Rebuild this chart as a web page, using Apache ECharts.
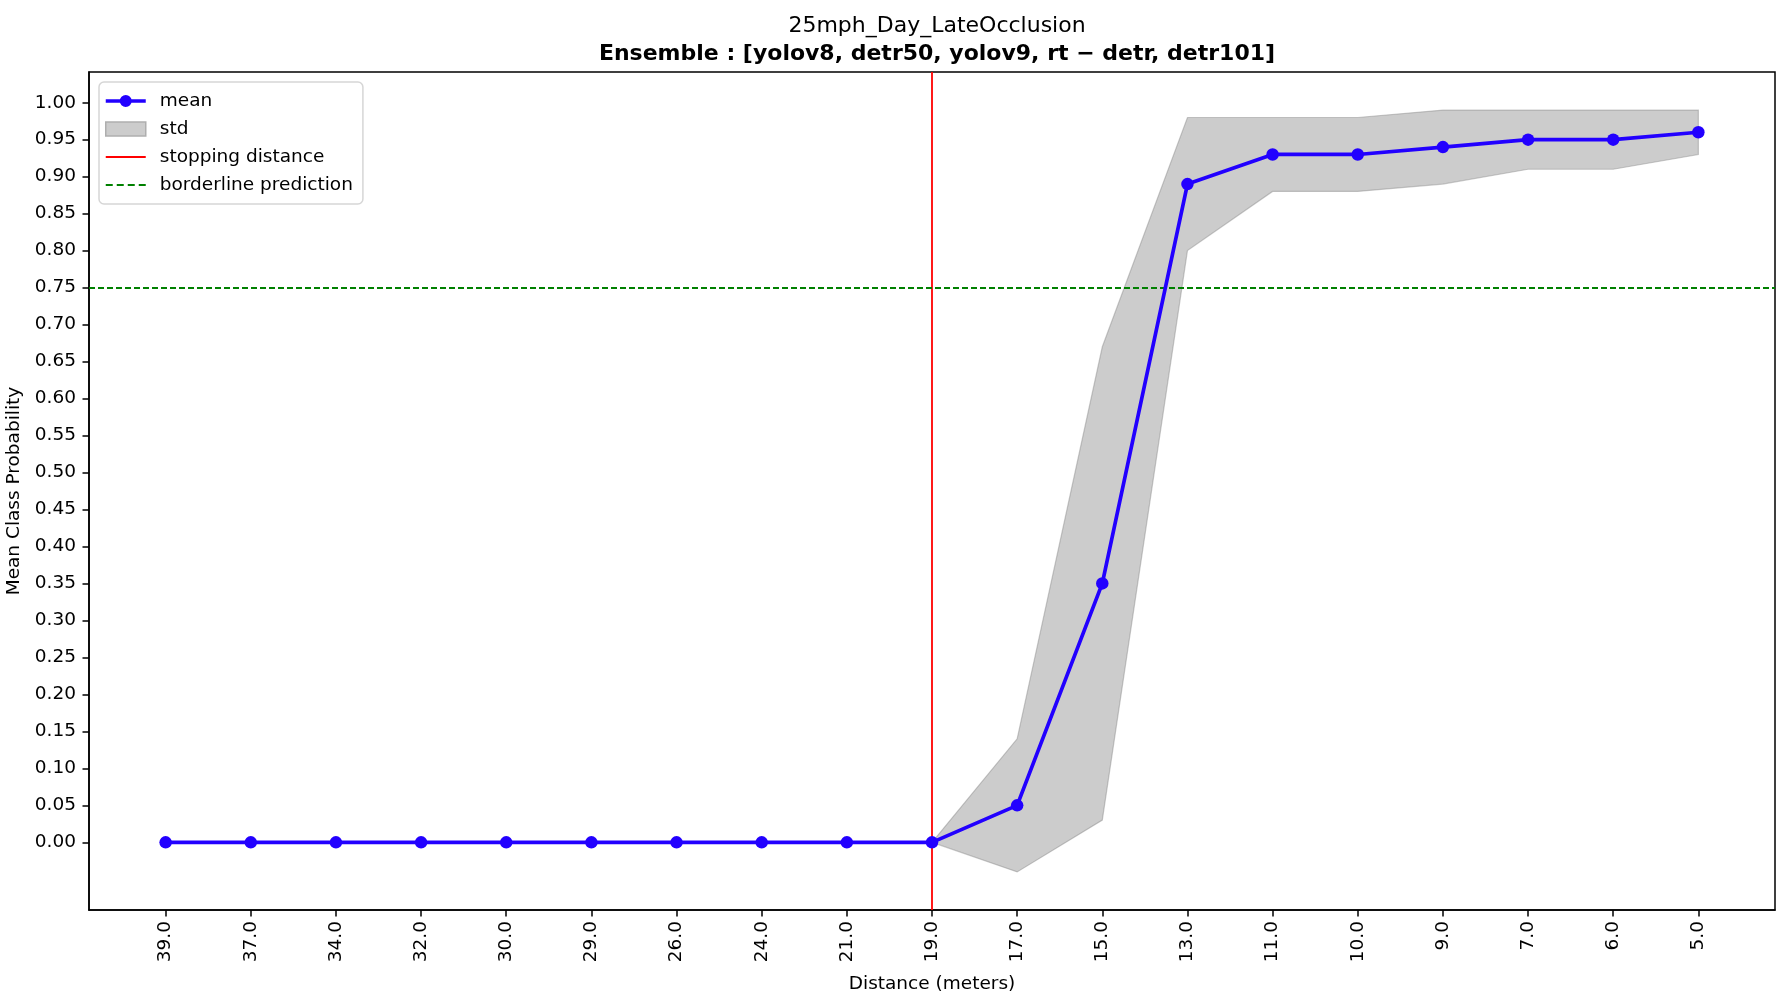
<!DOCTYPE html>
<html>
<head>
<meta charset="utf-8">
<script src="https://cdn.jsdelivr.net/npm/echarts@6/dist/echarts.min.js"></script>
<style>
  html, body { margin: 0; padding: 0; background: #fff; }
  #chart { width: 1783px; height: 994px; }
</style>
</head>
<body>
<div id="chart"></div>
<script>
// distances along the x axis (categories)
const distances = ['39.0', '37.0', '34.0', '32.0', '30.0', '29.0', '26.0', '24.0', '21.0', '19.0',
                   '17.0', '15.0', '13.0', '11.0', '10.0', '9.0', '7.0', '6.0', '5.0'];
const meanProb = [0, 0, 0, 0, 0, 0, 0, 0, 0, 0, 0.05, 0.35, 0.89, 0.93, 0.93, 0.94, 0.95, 0.95, 0.96];
const stdUpper = [0, 0, 0, 0, 0, 0, 0, 0, 0, 0, 0.14, 0.67, 0.98, 0.98, 0.98, 0.99, 0.99, 0.99, 0.99];
const stdLower = [0, 0, 0, 0, 0, 0, 0, 0, 0, 0, -0.04, 0.03, 0.80, 0.88, 0.88, 0.89, 0.91, 0.91, 0.93];
const yTicks = [0.00, 0.05, 0.10, 0.15, 0.20, 0.25, 0.30, 0.35, 0.40, 0.45, 0.50,
                0.55, 0.60, 0.65, 0.70, 0.75, 0.80, 0.85, 0.90, 0.95, 1.00];
const stoppingDistance = '19.0';
const borderline = 0.75;

const FONT = 'DejaVu Sans';
const stopIdx = distances.indexOf(stoppingDistance);
const xIdx = distances.map((d, i) => i);

// legend glyphs (40x14 box, leading moves fix the bounding box)
const ICON_MEAN = 'path://M0,0M40,14M0,5.2H40V8.8H0Z M26,7a6,6 0 1,1 -12,0a6,6 0 1,1 12,0Z';
const ICON_SOLID = 'path://M0,0M40,14M0,6H40V8H0Z';
const ICON_DASH = 'path://M0,0M40,14M0,6H7V8H0Z M11,6H18V8H11Z M22,6H29V8H22Z M33,6H40V8H33Z';

const chart = echarts.init(document.getElementById('chart'));

chart.setOption({
  animation: false,
  backgroundColor: '#fff',
  title: [
    {
      text: '25mph_Day_LateOcclusion',
      left: 932, top: 10, textAlign: 'center',
      textStyle: { fontFamily: FONT, fontSize: 22, fontWeight: 'normal', color: '#000' },
    },
    {
      text: 'Ensemble : [yolov8, detr50, yolov9, rt \u2212 detr, detr101]',
      left: 932, top: 38, textAlign: 'center',
      textStyle: { fontFamily: FONT, fontSize: 22, fontWeight: 'bold', color: '#000' },
    },
  ],
  legend: {
    orient: 'vertical',
    left: 99, top: 82,
    padding: [9, 10, 9, 6],
    itemWidth: 40, itemHeight: 14, itemGap: 8,
    backgroundColor: '#fff',
    borderColor: '#d6d6d6', borderWidth: 1.5, borderRadius: 5,
    textStyle: { fontFamily: FONT, fontSize: 18.5, color: '#000', lineHeight: 20, padding: [0, 0, 0, 9] },
    data: [
      { name: 'mean', icon: ICON_MEAN, itemStyle: { color: '#2200ff' } },
      { name: 'std', icon: 'rect', itemStyle: { color: '#cccccc', borderColor: '#aeaeae', borderWidth: 1.5 } },
      { name: 'stopping distance', icon: ICON_SOLID, itemStyle: { color: '#ff0000' } },
      { name: 'borderline prediction', icon: ICON_DASH, itemStyle: { color: '#008000' } },
    ],
  },
  grid: {
    left: 89, right: 8, top: 72, bottom: 84,
    outerBoundsMode: 'none',
    show: true, borderColor: '#000', borderWidth: 1.5, backgroundColor: 'transparent',
  },
  xAxis: {
    type: 'value',
    min: -0.9, max: 18.9,
    name: 'Distance (meters)', nameLocation: 'middle', nameGap: 65,
    nameTextStyle: { fontFamily: FONT, fontSize: 18.5, color: '#000' },
    axisLine: { show: true, onZero: false, lineStyle: { color: '#000', width: 1.5 } },
    axisTick: { show: true, length: 6.5, lineStyle: { color: '#000', width: 1.5 }, customValues: xIdx },
    axisLabel: {
      rotate: 90, margin: 11, fontFamily: FONT, fontSize: 18.5, color: '#000',
      customValues: xIdx,
      formatter: (v) => distances[v],
    },
    splitLine: { show: false },
  },
  yAxis: {
    type: 'value',
    min: -0.0915, max: 1.0415,
    name: 'Mean Class Probability', nameLocation: 'middle', nameGap: 65,
    nameTextStyle: { fontFamily: FONT, fontSize: 18.5, color: '#000' },
    axisLine: { show: true, onZero: false, lineStyle: { color: '#000', width: 1.5 } },
    axisTick: { show: true, length: 6.5, lineStyle: { color: '#000', width: 1.5 }, customValues: yTicks },
    axisLabel: {
      margin: 13, fontFamily: FONT, fontSize: 18.5, color: '#000',
      customValues: yTicks,
      formatter: (v) => v.toFixed(2),
    },
    splitLine: { show: false },
  },
  series: [
    {
      name: 'std',
      type: 'custom',
      z: 1,
      itemStyle: { color: '#cccccc' },
      data: xIdx.map((i) => [i, stdLower[i], stdUpper[i]]),
      renderItem: function (params, api) {
        if (params.dataIndex !== 0) return;
        const pts = [];
        for (let i = 0; i < stdUpper.length; i++) pts.push(api.coord([i, stdUpper[i]]));
        for (let i = stdLower.length - 1; i >= 0; i--) pts.push(api.coord([i, stdLower[i]]));
        return {
          type: 'polygon',
          shape: { points: pts },
          style: { fill: 'rgba(128,128,128,0.4)', stroke: 'rgba(128,128,128,0.4)', lineWidth: 1.2 },
        };
      },
    },
    {
      name: 'mean',
      type: 'line',
      z: 5,
      data: xIdx.map((i) => [i, meanProb[i]]),
      symbol: 'circle', symbolSize: 12.5, showAllSymbol: true,
      lineStyle: { color: '#2200ff', width: 3.7 },
      itemStyle: { color: '#2200ff' },
    },
    {
      name: 'stopping distance',
      type: 'line',
      z: 4,
      data: [],
      symbol: 'none',
      lineStyle: { color: '#ff0000', width: 1.8 },
      itemStyle: { color: '#ff0000' },
      markLine: {
        silent: true, symbol: 'none', label: { show: false },
        lineStyle: { color: '#ff0000', width: 1.8, type: 'solid' },
        data: [{ xAxis: stopIdx }],
      },
    },
    {
      name: 'borderline prediction',
      type: 'line',
      z: 4,
      data: [],
      symbol: 'none',
      lineStyle: { color: '#008000', width: 1.8, type: [6, 3] },
      itemStyle: { color: '#008000' },
      markLine: {
        silent: true, symbol: 'none', label: { show: false },
        lineStyle: { color: '#008000', width: 1.8, type: [6, 3] },
        data: [{ yAxis: borderline }],
      },
    },
  ],
});
</script>
</body>
</html>
